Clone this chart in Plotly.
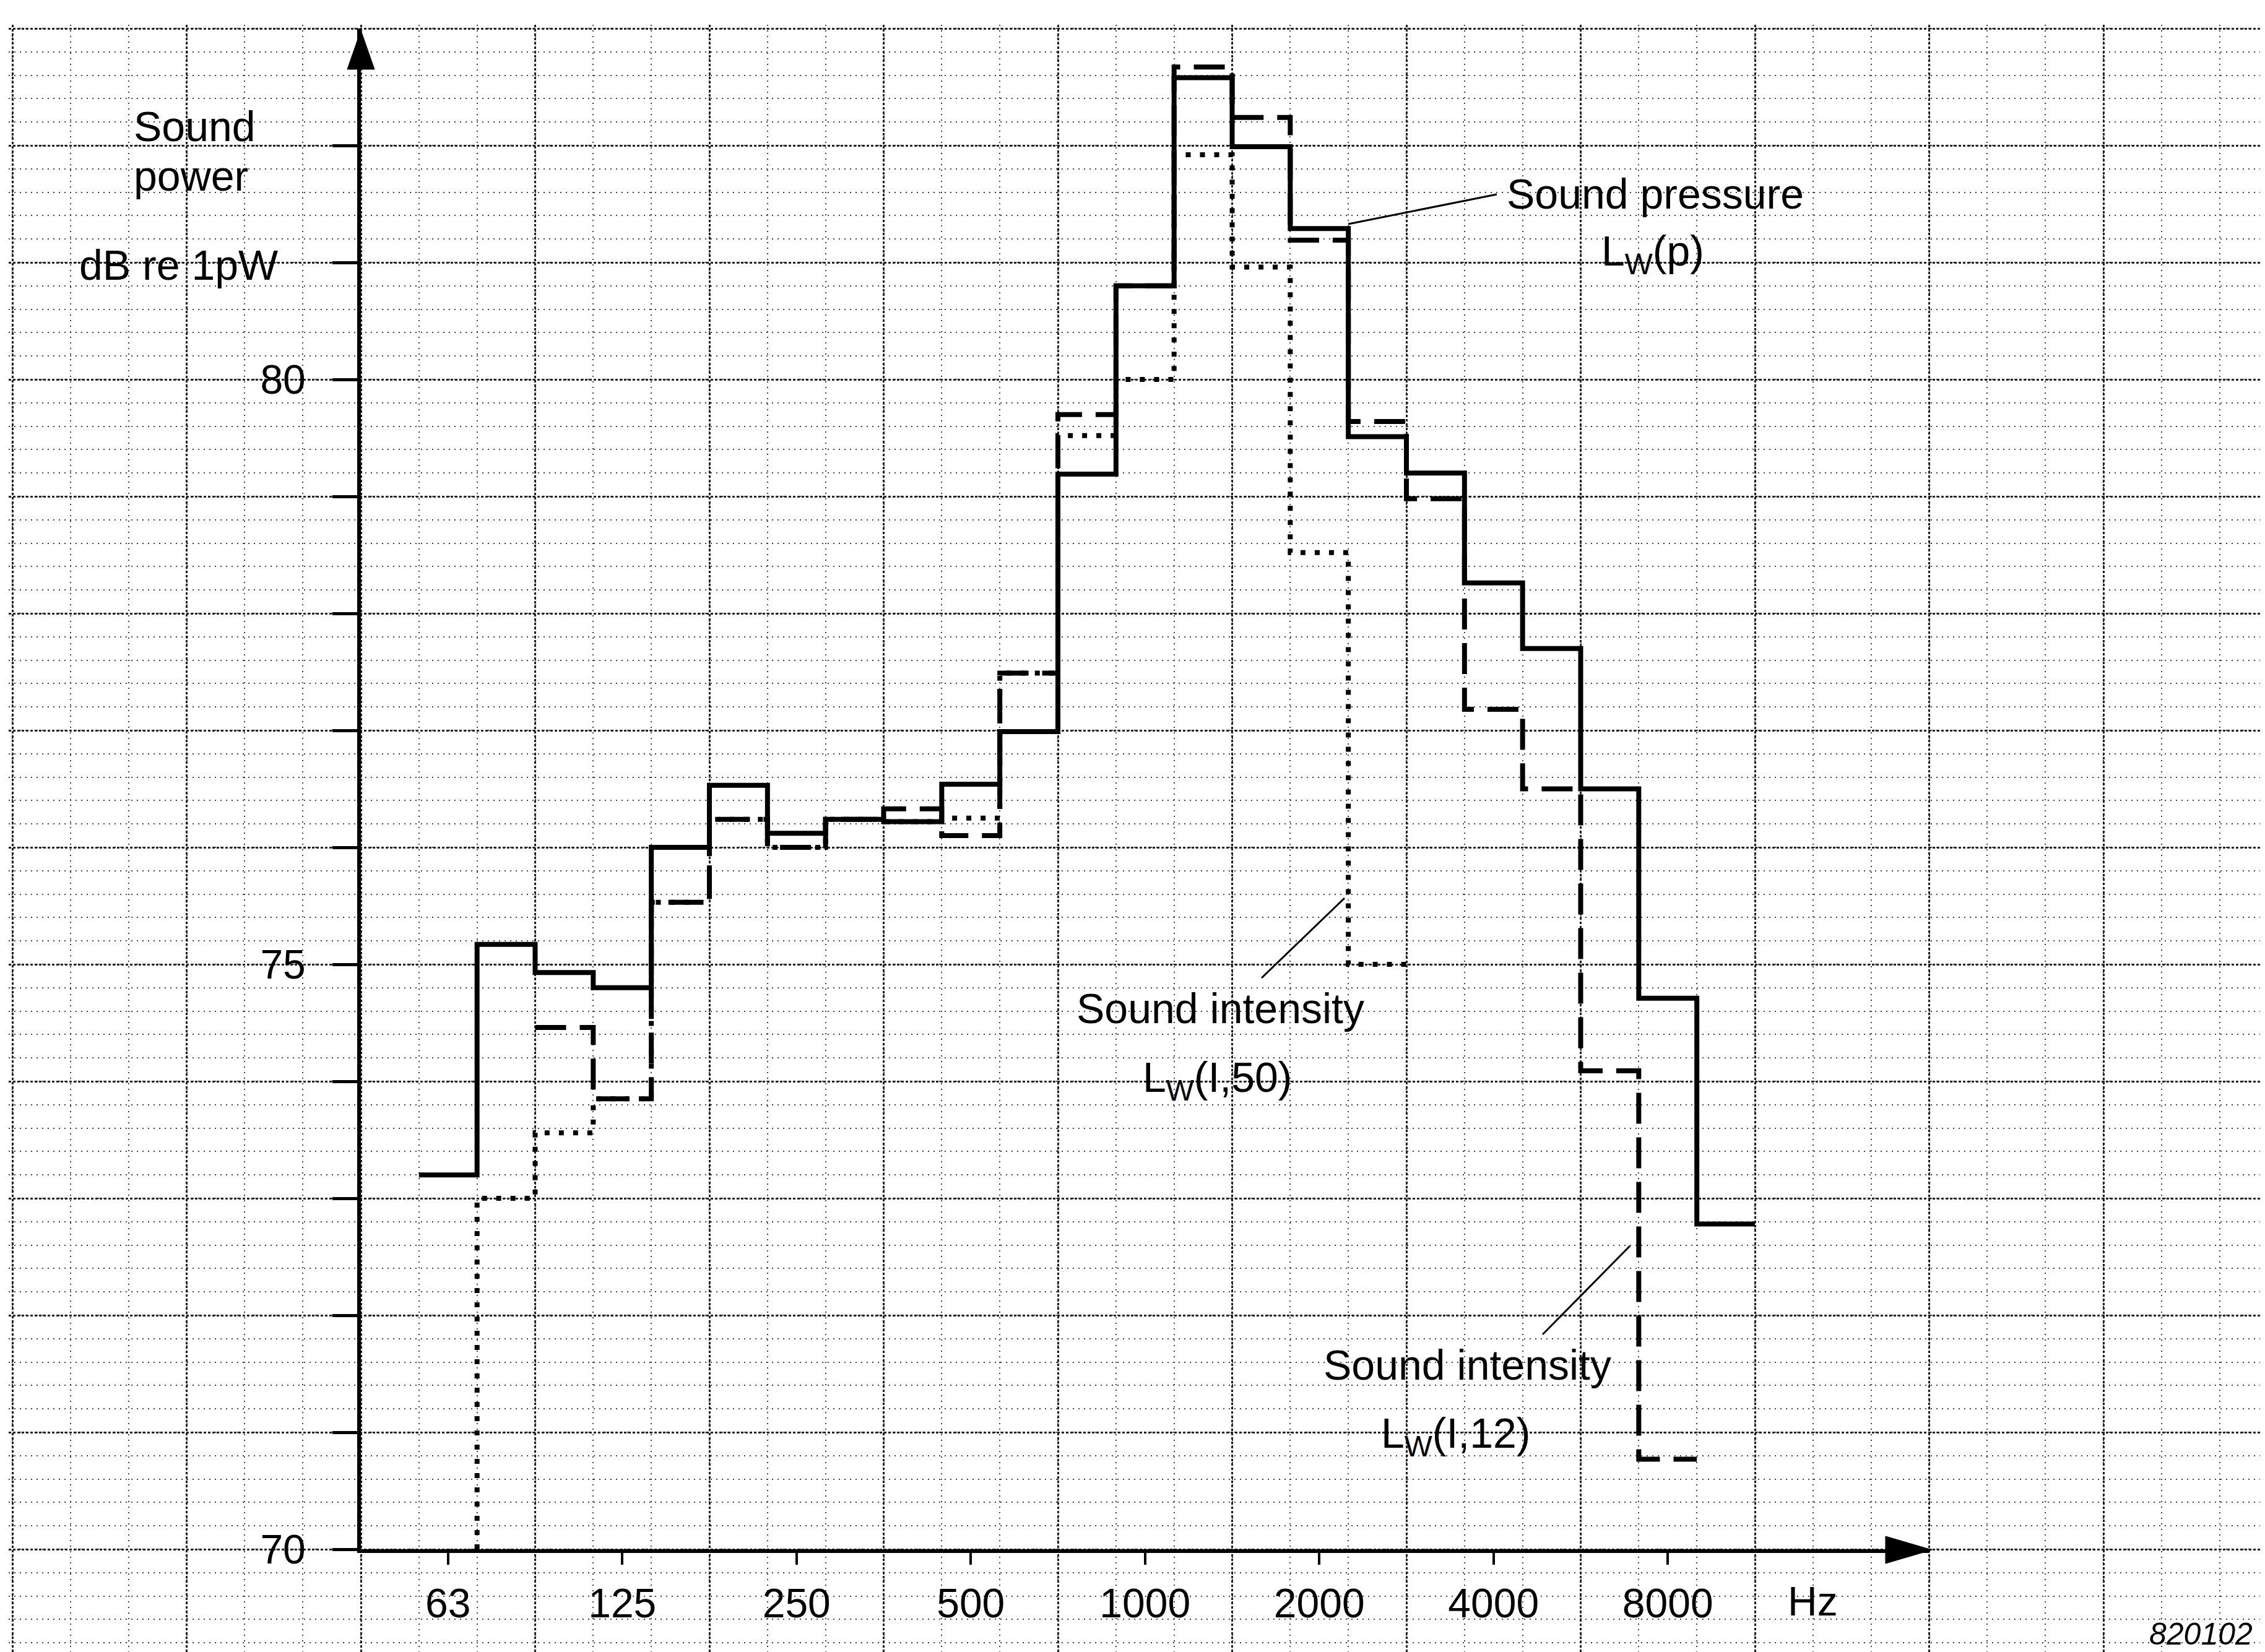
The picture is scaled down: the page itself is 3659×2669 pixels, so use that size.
import numpy as np
import plotly.graph_objects as go

# ---------------- data ----------------
# Third-octave band nominal centre frequencies (Hz) and sound power levels (dB re 1 pW)
bands_pressure = ["63", "80", "100", "125", "160", "200", "250", "315", "400", "500", "630",
                  "800", "1000", "1250", "1600", "2000", "2500", "3150", "4000", "5000",
                  "6300", "8000", "10000"]
lw_pressure = [73.20, 75.17, 74.93, 74.80, 76.00, 76.53, 76.12, 76.24, 76.22, 76.54, 76.99,
               79.19, 80.80, 82.58, 81.99, 81.29, 79.51, 79.20, 78.26, 77.70,
               76.50, 74.71, 72.78]

bands_i12 = ["100", "125", "160", "200", "250", "315", "400", "500", "630", "800", "1000",
             "1250", "1600", "2000", "2500", "3150", "4000", "5000", "6300", "8000"]
lw_i12 = [74.46, 73.85, 75.53, 76.24, 76.00, 76.24, 76.33, 76.10, 77.49, 79.70, 80.80,
          82.67, 82.24, 81.19, 79.64, 78.98, 77.18, 76.50, 74.09, 70.77]

bands_i50 = ["80", "100", "125", "160", "200", "250", "315", "400", "500", "630", "800",
             "1000", "1250", "1600", "2000", "2500"]
lw_i50 = [73.00, 73.56, 73.85, 75.53, 76.24, 76.00, 76.24, 76.22, 76.25, 77.49, 79.52,
          80.00, 81.92, 80.96, 78.52, 75.00]

xtick_labels = ["63", "125", "250", "500", "1000", "2000", "4000", "8000"]
ytick_labelled = [70, 75, 80]
ytick_minor = [71, 72, 73, 74, 76, 77, 78, 79, 81, 82]
y_min, y_max = 70, 83

# ---------------- geometry (page pixels of the 3659 x 2669 window) ----------------
PAGE_W, PAGE_H = 3659, 2669
OFF = 8                       # default body margin of the html page
W, H = PAGE_W - OFF, PAGE_H - OFF
ML, MT = 14 - OFF, 40 - OFF
PW, PH = W - ML, H - MT
X0_PX = 583.0                 # y axis / lower edge of the 50 Hz band (page px)
OCT_PX = 281.5                # pixels per octave
F0 = 1000 * 2 ** (-4.5)       # lower edge of the 50 Hz band
Y70_PX = 2503.0               # x axis (page px)
DB_PX = 189.0


def xp(px):
    return (px - OFF - ML) / PW


def yp(py):
    return (H - (py - OFF)) / PH


def f_at(px):
    return F0 * 2 ** ((px - X0_PX) / OCT_PX)


def db_at(py):
    return y_min + (Y70_PX - py) / DB_PX


def exact(f):
    f = float(f)
    return 1000 * 2 ** (round(3 * np.log2(f / 1000)) / 3)


def steps(bands, vals, start=None):
    fc = np.array([exact(b) for b in bands])
    lo = fc * 2 ** (-1 / 6)
    hi = fc[-1] * 2 ** (1 / 6)
    x = list(lo) + [hi]
    y = list(vals) + [vals[-1]]
    if start is not None:
        x = [lo[0]] + x
        y = [start] + y
    return x, y


fig = go.Figure()

# invisible trace to hold the graph-paper grid subplot
fig.add_trace(go.Scatter(x=[f_at(1000)], y=[75], mode="markers", marker=dict(opacity=0),
                         hoverinfo="skip", xaxis="x", yaxis="y"))

xs, ys = steps(bands_i50, lw_i50, start=y_min)
fig.add_trace(go.Scatter(x=xs, y=ys, mode="lines", line=dict(shape="hv", color="black", width=8,
                         dash="8px,15px"), name="Sound intensity Lw(I,50)", xaxis="x2", yaxis="y2"))
xs, ys = steps(bands_i12, lw_i12)
fig.add_trace(go.Scatter(x=xs, y=ys, mode="lines", line=dict(shape="hv", color="black", width=8,
                         dash="50px,22px"), name="Sound intensity Lw(I,12)", xaxis="x2", yaxis="y2"))
xs, ys = steps(bands_pressure, lw_pressure)
fig.add_trace(go.Scatter(x=xs, y=ys, mode="lines", line=dict(shape="hv", color="black", width=8),
                         name="Sound pressure Lw(p)", xaxis="x2", yaxis="y2"))

# ---------------- graph paper grid ----------------
major_x = [F0 * 2 ** n for n in range(-3, 13)]
minor_x = [F0 * 2 ** (m / 3) for m in range(-9, 37)]
major_y = list(range(69, 84))
minor_y = [round(68 + 0.2 * k, 1) for k in range(0, 80)]

grid_common = dict(showticklabels=False, ticks="", showline=False, zeroline=False,
                   automargin=False)
fig.update_layout(
    xaxis=dict(type="log", range=[np.log10(f_at(OFF + ML)), np.log10(f_at(PAGE_W))],
               domain=[0, 1],
               tickmode="array", tickvals=major_x, showgrid=True, gridcolor="#222",
               gridwidth=2.5, griddash="4px,3px", anchor="y",
               minor=dict(tickmode="array", tickvals=minor_x, showgrid=True, gridcolor="#444",
                          gridwidth=2, griddash="2px,7px", ticks=""), **grid_common),
    yaxis=dict(range=[db_at(PAGE_H), db_at(OFF + MT)], domain=[0, 1], tickmode="array",
               tickvals=major_y,
               showgrid=True, gridcolor="#222", gridwidth=2.5, griddash="4px,3px", anchor="x",
               minor=dict(tickmode="array", tickvals=minor_y, showgrid=True, gridcolor="#444",
                          gridwidth=2, griddash="2px,7px", ticks=""), **grid_common),
    xaxis2=dict(type="log", domain=[xp(X0_PX), xp(X0_PX + 9 * OCT_PX)],
                range=[np.log10(F0), np.log10(F0 * 2 ** 9)], anchor="y2", automargin=False,
                showline=True, linewidth=6, linecolor="black", showgrid=False, zeroline=False,
                ticks="outside", ticklen=19, tickwidth=4, tickcolor="black",
                tickmode="array", tickvals=[exact(t) for t in xtick_labels], ticktext=xtick_labels,
                tickfont=dict(size=66, color="black"), ticklabelstandoff=6),
    yaxis2=dict(domain=[yp(Y70_PX), yp(Y70_PX - 13 * DB_PX)], range=[y_min, y_max], anchor="x2",
                automargin=False,
                showline=True, linewidth=6, linecolor="black", showgrid=False, zeroline=False,
                ticks="outside", ticklen=40, tickwidth=5, tickcolor="black",
                tickmode="array", tickvals=ytick_labelled,
                ticktext=[str(v) for v in ytick_labelled],
                tickfont=dict(size=66, color="black"), ticklabelstandoff=30,
                minor=dict(tickmode="array", tickvals=ytick_minor, ticks="outside", ticklen=40,
                           tickwidth=5, tickcolor="black", showgrid=False)),
)

# ---------------- texts ----------------
TF = 68
ann = []


def text(t, px, py, size=TF, xanchor="left"):
    ann.append(dict(text=t, x=xp(px), y=yp(py), xref="paper", yref="paper", showarrow=False,
                    xanchor=xanchor, yanchor="middle", font=dict(size=size, color="black")))


text("Sound", 214, 204)
text("power", 214, 284)
text("dB re 1pW", 126, 428)
text("Sound pressure", 2432, 313)
text("L<sub>W</sub>(p)", 2585, 410)
text("Sound intensity", 1971, 1629, xanchor="center")
text("L<sub>W</sub>(I,50)", 1967, 1745, xanchor="center")
text("Sound intensity", 2370, 2205, xanchor="center")
text("L<sub>W</sub>(I,12)", 2351, 2320, xanchor="center")
text("Hz", 2886, 2587, size=66)
text("<i>820102</i>", 3470, 2640, size=50)

shapes = []


def seg(x1, y1, x2, y2, w=3):
    shapes.append(dict(type="line", xref="paper", yref="paper", x0=xp(x1), y0=yp(y1),
                       x1=xp(x2), y1=yp(y2), line=dict(color="black", width=w)))


def tri(pts):
    p = " L ".join(f"{xp(a):.5f},{yp(b):.5f}" for a, b in pts)
    shapes.append(dict(type="path", xref="paper", yref="paper", path=f"M {p} Z",
                       fillcolor="black", line=dict(color="black", width=1)))


# leader lines
seg(2178, 362, 2418, 314)
seg(2038, 1580, 2172, 1451)
seg(2492, 2156, 2633, 2013)
# axis arrowheads
tri([(583, 49), (561, 112), (605, 112)])
tri([(3121, 2504), (3046, 2482), (3046, 2526)])

fig.update_layout(width=W, height=H, margin=dict(l=ML, r=0, t=MT, b=0, pad=0),
                  paper_bgcolor="white", plot_bgcolor="rgba(0,0,0,0)", showlegend=False,
                  font=dict(family="Liberation Sans, Arial, sans-serif", color="black"),
                  annotations=ann, shapes=shapes)

fig.write_html("out.html")
